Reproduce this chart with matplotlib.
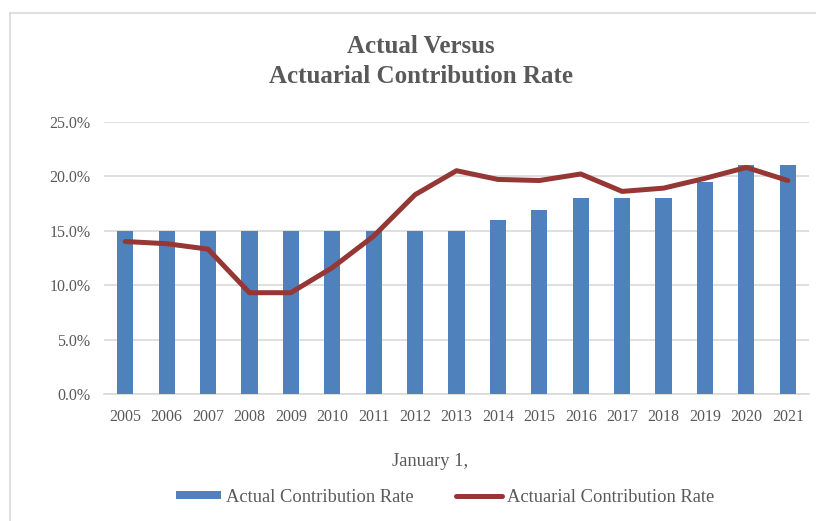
import matplotlib
matplotlib.use("Agg")
import matplotlib.pyplot as plt
from matplotlib.lines import Line2D
from matplotlib.patches import Patch
from matplotlib.ticker import FuncFormatter, MultipleLocator

years = ["2005", "2006", "2007", "2008", "2009", "2010", "2011", "2012", "2013",
         "2014", "2015", "2016", "2017", "2018", "2019", "2020", "2021"]
actual_rate = [15.0, 15.0, 15.0, 15.0, 15.0, 15.0, 15.0, 15.0, 15.0,
               16.0, 16.9, 18.0, 18.0, 18.0, 19.5, 21.0, 21.0]
actuarial_rate = [14.0, 13.8, 13.3, 9.3, 9.3, 11.6, 14.5, 18.3, 20.5,
                  19.7, 19.6, 20.2, 18.6, 18.9, 19.8, 20.8, 19.6]

BAR_COLOR = "#4F81BD"
LINE_COLOR = "#953735"
TEXT_COLOR = "#595959"
GRID_COLOR = "#D9D9D9"

plt.rcParams["font.family"] = ["Liberation Serif", "DejaVu Serif"]

W, H = 816, 521
fig = plt.figure(figsize=(W / 100, H / 100), dpi=100)

# plot area in pixel units
left_px, right_px, top_px, bottom_px = 104.5, 808.5, 121.7, 394.0
ax = fig.add_axes([left_px / W, 1 - bottom_px / H,
                   (right_px - left_px) / W, (bottom_px - top_px) / H])

x = list(range(len(years)))
ax.bar(x, actual_rate, width=0.39, color=BAR_COLOR, zorder=2)
ax.plot(x, actuarial_rate, color=LINE_COLOR, lw=3.6, solid_capstyle="round",
        solid_joinstyle="round", zorder=3)

ax.set_xlim(-0.5, len(years) - 0.5)
ax.set_ylim(0, 25)
ax.yaxis.set_major_locator(MultipleLocator(5))
ax.yaxis.set_major_formatter(FuncFormatter(lambda v, p: f"{v:.1f}%"))
ax.set_xticks(x)
ax.set_xticklabels(years)
ax.grid(axis="y", color=GRID_COLOR, lw=1.2, zorder=0)
ax.set_axisbelow(True)
for side in ("left", "right", "top"):
    ax.spines[side].set_visible(False)
ax.spines["bottom"].set_color(GRID_COLOR)
ax.spines["bottom"].set_linewidth(1.2)
ax.spines["bottom"].set_zorder(1)
ax.tick_params(axis="both", length=0, labelsize=11.5, colors=TEXT_COLOR)
ax.tick_params(axis="y", pad=10)
ax.tick_params(axis="x", pad=11)

# titles
fig.text(421 / W, 1 - 53 / H, "Actual Versus", ha="center", va="baseline",
         fontsize=18, fontweight="bold", color=TEXT_COLOR)
fig.text(421 / W, 1 - 83 / H, "Actuarial Contribution Rate", ha="center",
         va="baseline", fontsize=18, fontweight="bold", color=TEXT_COLOR)
fig.text(430 / W, 1 - 466 / H, "January 1,", ha="center", va="baseline",
         fontsize=13.3, color=TEXT_COLOR)

# legend
handles = [Patch(facecolor=BAR_COLOR, edgecolor="none"),
           Line2D([0], [0], color=LINE_COLOR, lw=3.6, solid_capstyle="round")]
labels = ["Actual Contribution Rate", "Actuarial Contribution Rate"]
fig.legend(handles, labels, loc="center", bbox_to_anchor=(445 / W, 1 - 497 / H),
           ncol=2, frameon=False, fontsize=13.3, labelcolor=TEXT_COLOR,
           handlelength=2.45, handleheight=0.35, handletextpad=0.3,
           columnspacing=2.3, borderpad=0, borderaxespad=0)

# chart area border
fig.add_artist(Line2D([10 / W, 10 / W], [0, 1 - 13 / H], transform=fig.transFigure,
                      color=GRID_COLOR, lw=1.2))
fig.add_artist(Line2D([10 / W, 1], [1 - 13 / H, 1 - 13 / H], transform=fig.transFigure,
                      color=GRID_COLOR, lw=1.2))

fig.savefig("out.png", dpi=100, facecolor="white")
